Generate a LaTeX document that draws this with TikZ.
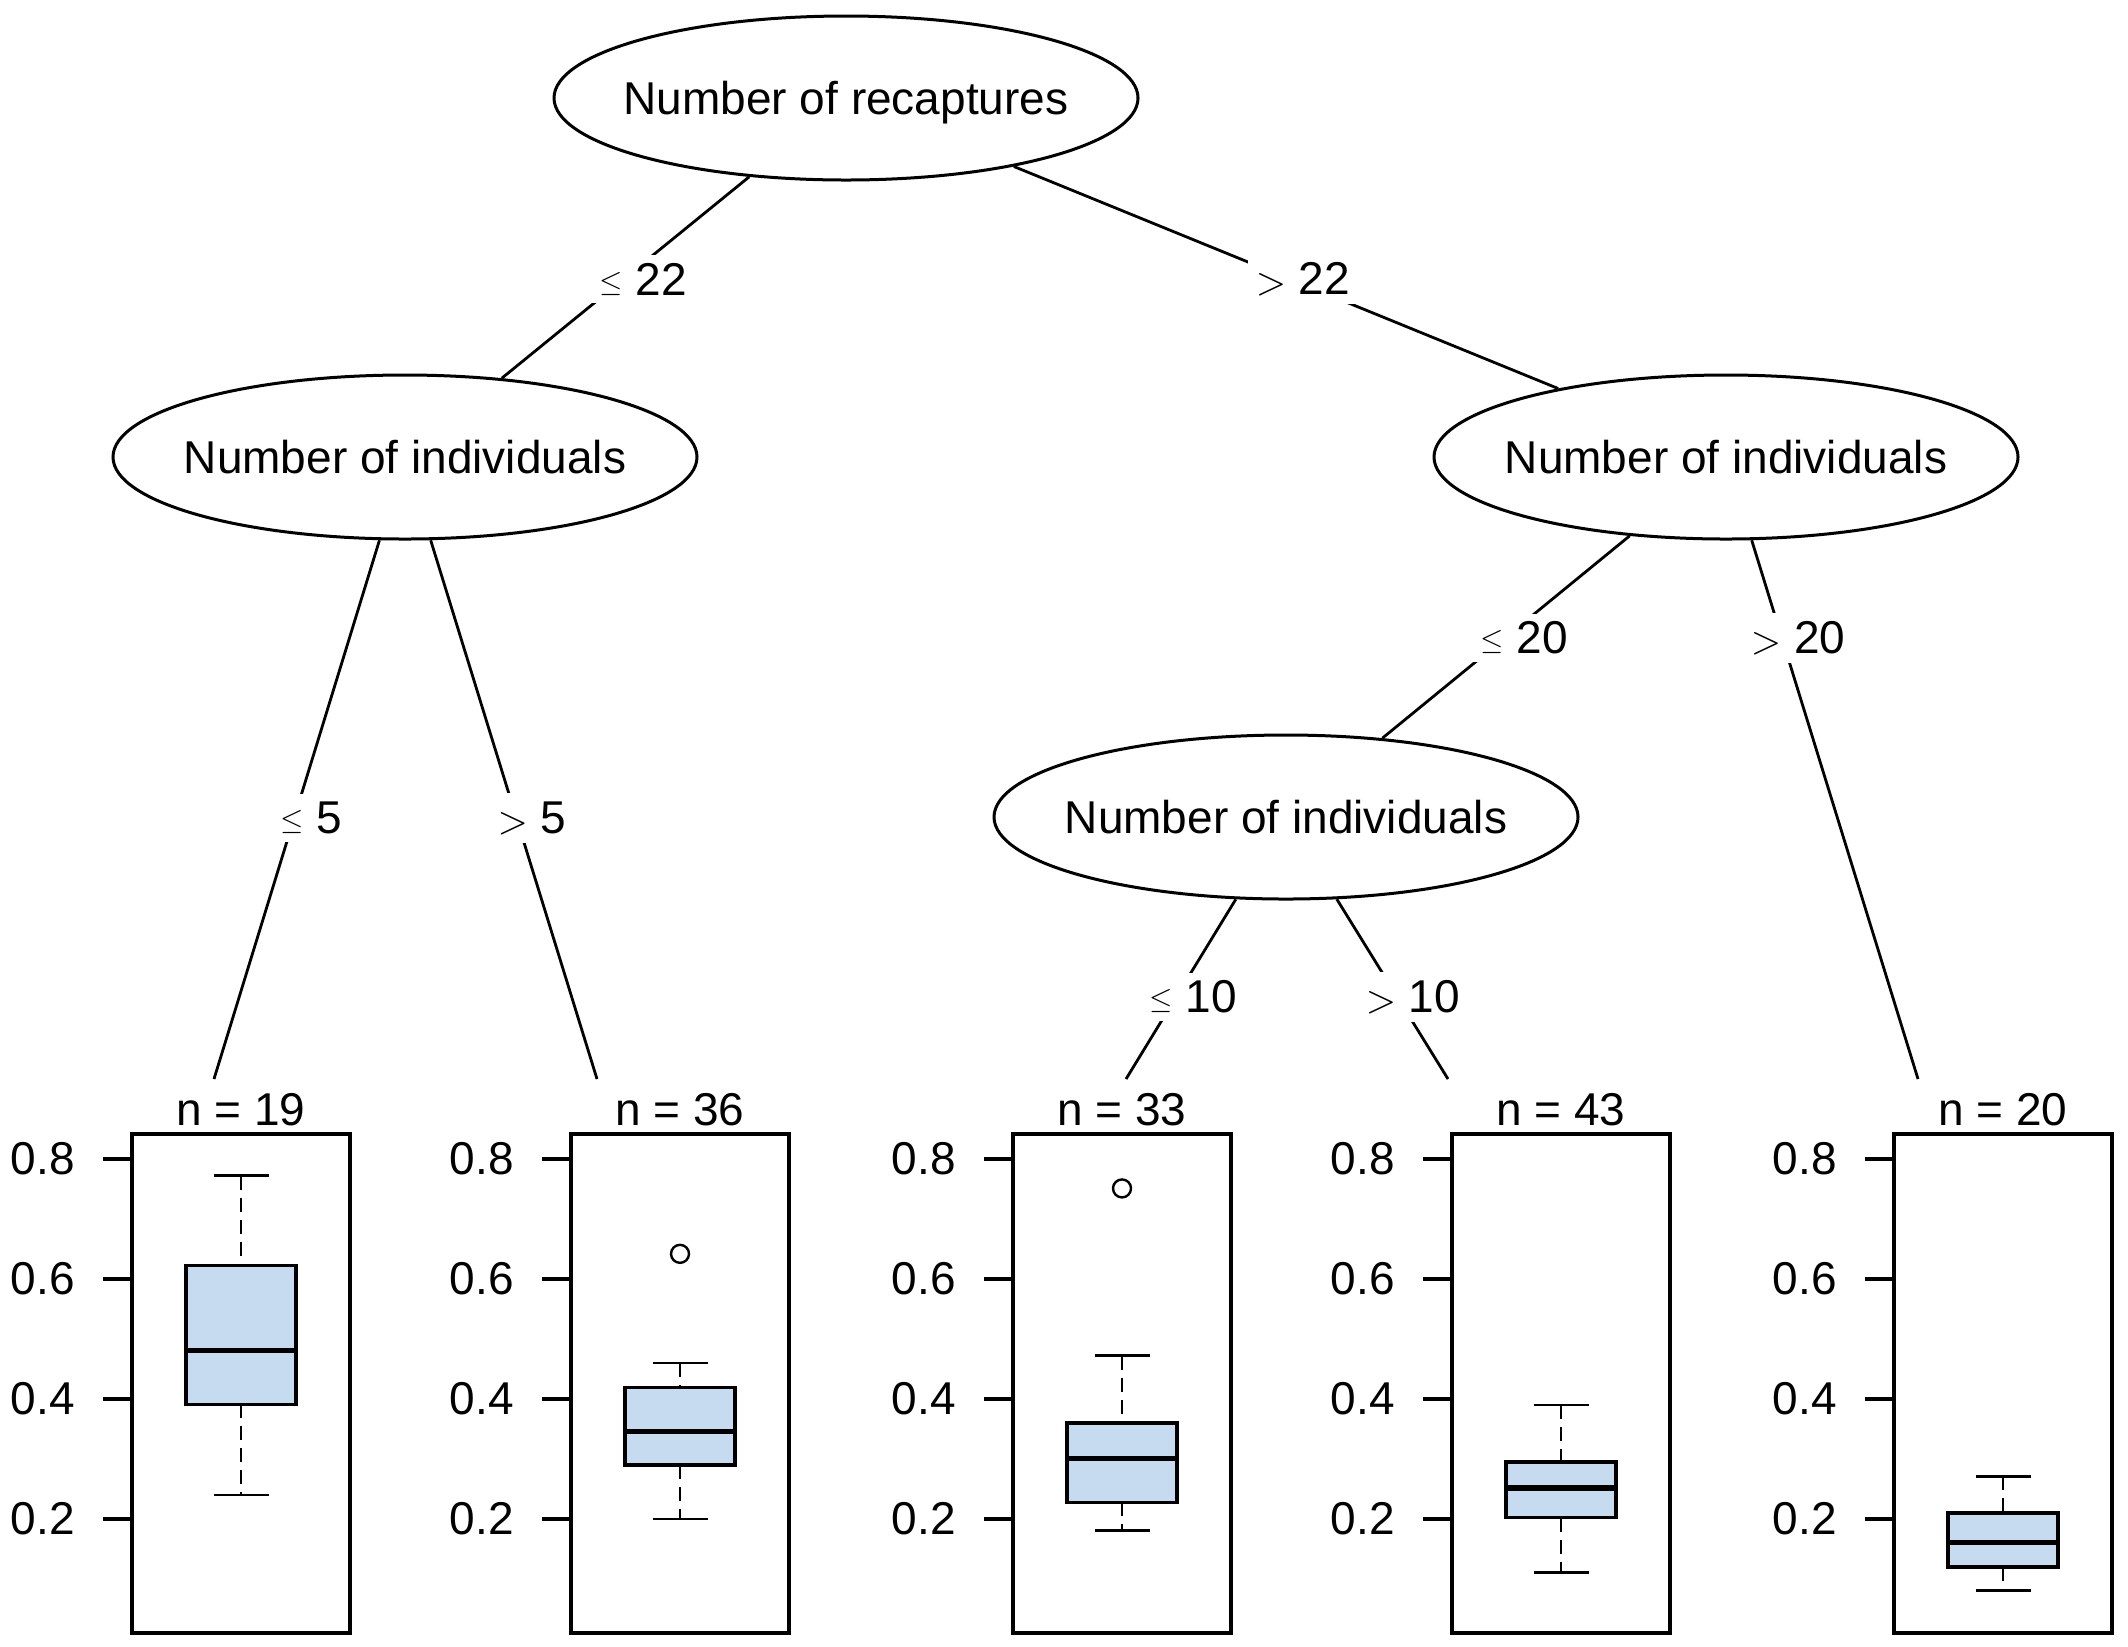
\documentclass[tikz,border=0pt]{standalone}
\usepackage{graphicx}
\usepackage{fontspec}
\setmainfont{Liberation Sans}
\usetikzlibrary{shapes.geometric}
\definecolor{boxfill}{RGB}{198,219,239}
\newcommand\mle{{\fontsize{10}{10}\selectfont\raisebox{2pt}{\scalebox{1.5}{$\leq$}}}}
\newcommand\mgt{{\fontsize{10}{10}\selectfont\scalebox{1.95}{$>$}}}
\newcommand\drawpanel[8]{%
  \pgfmathsetmacro\pc{#1+109}%
  \draw[frame] (#1,1134) rectangle (#1+218,1633);
  \foreach \tv in {0.2,0.4,0.6,0.8}{
    \draw[frame] (#1-29,1639-600*\tv) -- (#1,1639-600*\tv);
    \node[ticklab,anchor=east] at (#1-57,1639-600*\tv) {\tv};
  }
  \node[nlab] (#8) at (\pc,1110) {n = #2};
  \draw[whisk] (\pc,1639-600*#7) -- (\pc,1639-600*#6);
  \draw[whisk] (\pc,1639-600*#4) -- (\pc,1639-600*#3);
  \draw[wcap] (\pc-27.5,1639-600*#7) -- (\pc+27.5,1639-600*#7);
  \draw[wcap] (\pc-27.5,1639-600*#3) -- (\pc+27.5,1639-600*#3);
  \draw[bx] (\pc-55,1639-600*#6) rectangle (\pc+55,1639-600*#4);
  \draw[medline] (\pc-55,1639-600*#5) -- (\pc+55,1639-600*#5);
}
\begin{document}
\begin{tikzpicture}[x=0.5pt,y=-0.5pt,
  split/.style={ellipse,draw,line width=1.5pt,minimum width=292pt,minimum height=82pt,inner sep=0pt,text depth=0pt,font=\fontsize{23}{23}\selectfont},
  edgelab/.style={fill=white,inner sep=4pt,font=\fontsize{23}{23}\selectfont},
  conn/.style={line width=1.4pt},
  frame/.style={line width=1.6pt},
  ticklab/.style={inner sep=0pt,font=\fontsize{23}{23}\selectfont},
  nlab/.style={inner sep=0pt,font=\fontsize{23}{23}\selectfont},
  whisk/.style={line width=1.3pt,dash pattern=on 7pt off 4pt},
  wcap/.style={line width=1.4pt},
  bx/.style={line width=1.6pt,fill=boxfill},
  medline/.style={line width=2.9pt},
  outl/.style={line width=1.2pt}]
\useasboundingbox (0,0) rectangle (2128,1646);

% split nodes
\node[split] (e1) at (846,98) {\makebox[0pt]{Number of recaptures}};
\node[split] (e2) at (405,457) {\makebox[0pt]{Number of individuals}};
\node[split] (e3) at (1726,457) {\makebox[0pt]{Number of individuals}};
\node[split] (e4) at (1286,817) {\makebox[0pt]{Number of individuals}};

% leaf attachment points
\coordinate (l1) at (214,1079);
\coordinate (l2) at (597,1079);
\coordinate (l3) at (1126,1079);
\coordinate (l4) at (1448,1079);
\coordinate (l5) at (1918,1079);

% connectors
\draw[conn] (e1) -- (e2);
\draw[conn] (e1) -- (e3);
\draw[conn] (e2) -- (l1);
\draw[conn] (e2) -- (l2);
\draw[conn] (e3) -- (e4);
\draw[conn] (e3) -- (l5);
\draw[conn] (e4) -- (l3);
\draw[conn] (e4) -- (l4);

% edge labels
\node[edgelab] (s1) at (643,279) {\mle{} 22};
\node[edgelab] (s2) at (1303,279) {\mgt{} 22};
\node[edgelab] (s3) at (311,818) {\mle{} 5};
\node[edgelab] (s4) at (532,818) {\mgt{} 5};
\node[edgelab] (s5) at (1524,638) {\mle{} 20};
\node[edgelab] (s6) at (1798,638) {\mgt{} 20};
\node[edgelab] (s7) at (1193,997) {\mle{} 10};
\node[edgelab] (s8) at (1413,997) {\mgt{} 10};

% terminal panels
\drawpanel{132}{19}{0.24}{0.391}{0.481}{0.622}{0.772}{n1}
\drawpanel{571}{36}{0.20}{0.290}{0.346}{0.419}{0.460}{n2}
\drawpanel{1013}{33}{0.181}{0.228}{0.301}{0.360}{0.472}{n3}
\drawpanel{1452}{43}{0.111}{0.202}{0.252}{0.295}{0.390}{n4}
\drawpanel{1894}{20}{0.081}{0.120}{0.161}{0.210}{0.271}{n5}

% outliers
\draw[outl] (680,1639-600*0.642) circle[radius=4.5pt];
\draw[outl] (1122,1639-600*0.751) circle[radius=4.5pt];
\end{tikzpicture}
\end{document}
